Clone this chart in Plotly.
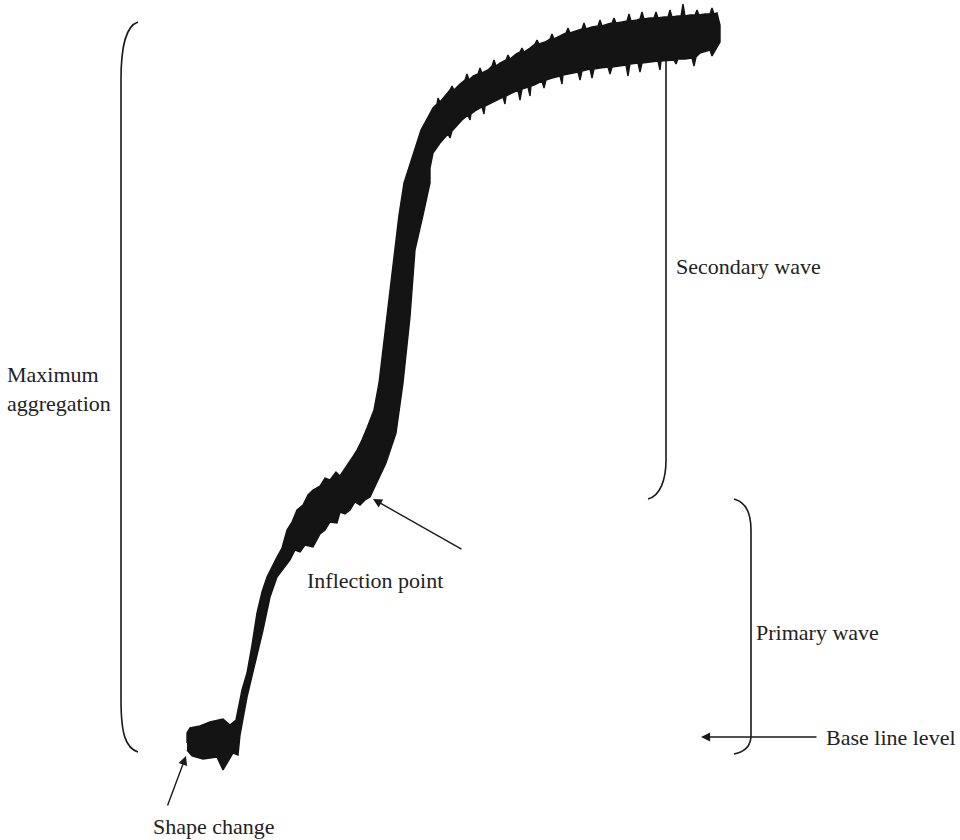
import plotly.graph_objects as go

# Aggregation trace envelope
# time (a.u.) and light transmission (a.u., baseline = 0)
upper_time = [-1, -1, 2, 12, 22, 35, 42, 48, 54, 59, 64, 69, 74, 79,
              89, 94, 99, 104, 109, 115, 120, 125, 132, 137, 142, 148, 152, 159, 164, 169, 174, 179,
              186, 191, 195, 199, 203, 207, 211, 216, 227, 233,
              245, 249, 250, 252, 257, 262, 264, 266, 272, 277, 279, 281, 285, 290, 292, 294, 300,
              304, 306, 308, 312, 318, 320, 322, 328, 332, 334, 336, 342, 347, 349, 351, 357, 362,
              364, 366, 372, 378, 380, 382, 388, 394, 396, 398, 404, 410, 412, 414, 420, 424, 426,
              428, 434, 439, 441, 443, 449, 452, 454, 456, 462, 466, 468, 470, 476, 480, 482, 484,
              490, 493, 495, 497, 502, 507, 509, 511, 517, 522, 524, 526, 529, 532]
upper_val = [-5, 5, 10, 12, 16, 19, 13, 18, 48, 65, 93, 125, 146, 161,
             181, 190, 208, 216, 228, 233, 243, 248, 252, 260, 258, 266, 262, 272, 280, 288, 298, 310,
             328, 355, 388, 421, 453, 488, 523, 555, 588, 608,
             630, 634, 640, 636, 642, 648, 652, 648, 654, 658, 664, 658, 662, 664, 670, 665, 668,
             672, 678, 672, 675, 678, 683, 679, 684, 686, 690, 686, 690, 694, 698, 694, 696, 699,
             704, 699, 702, 705, 710, 705, 707, 709, 715, 709, 711, 712, 718, 712, 714, 715, 720,
             715, 716, 717, 724, 717, 718, 719, 726, 719, 720, 720, 726, 720, 721, 721, 728, 721,
             722, 722, 734, 722, 723, 723, 728, 723, 724, 724, 730, 724, 725, 713]
lower_time = [532, 528, 524, 522, 512, 508, 506, 504, 497, 490, 488, 486, 477, 473, 472, 470, 462,
              454, 452, 450, 442, 440, 438, 430, 424, 422, 420, 412, 406, 404, 402, 394, 392, 390,
              382, 375, 374, 372, 364, 358, 356, 354, 346, 343, 342, 340, 334, 332, 330, 322, 318,
              317, 315, 307, 300, 297, 296, 294, 287, 283, 282, 280, 274, 269, 264, 262, 260, 252,
              245, 242, 242, 235, 227, 222, 215, 208, 198,
              182, 177, 172, 167, 162, 157, 152, 149, 142, 137, 132, 125, 117, 112, 107, 102,
              89, 82, 75, 67, 59, 52, 50, 45, 35, 29, 15, 4, -1]
lower_val = [696, 689, 682, 688, 685, 681, 672, 680, 679, 679, 674, 678, 677, 677, 668, 677, 676,
             675, 666, 675, 674, 662, 673, 672, 671, 664, 671, 670, 669, 660, 669, 667, 658, 666,
             664, 663, 654, 662, 660, 658, 650, 657, 653, 652, 642, 651, 649, 638, 648, 644, 642,
             634, 641, 637, 634, 632, 624, 631, 627, 624, 618, 623, 618, 613, 607, 600, 604, 595,
             585, 570, 555, 523, 488, 421, 355, 305, 275,
             241, 238, 233, 236, 228, 224, 226, 215, 216, 208, 204, 191, 193, 186, 188, 178,
             161, 141, 108, 75, 41, 3, -17, -15, -32, -19, -21, -18, -12]

labels = {
    "max": "Maximum<br>aggregation",
    "secondary": "Secondary wave",
    "primary": "Primary wave",
    "inflection": "Inflection point",
    "shape": "Shape change",
    "baseline": "Base line level",
}

W, H = 960, 840
X0_PX, Y0_PX = 188, 738  # picture pixel of time 0 / baseline


def X(px):
    return px / W


def Y(py):
    return 1 - py / H


fig = go.Figure()
fig.add_trace(go.Scatter(
    x=upper_time + lower_time,
    y=upper_val + lower_val,
    mode="lines",
    fill="toself",
    fillcolor="#141414",
    line=dict(color="#141414", width=1.4),
    hoverinfo="skip",
    showlegend=False,
))

ink = "#1a1a1a"
shapes = []


def path(d):
    shapes.append(dict(type="path", xref="paper", yref="paper", path=d,
                       line=dict(color=ink, width=1.6), layer="below"))


def P(px, py):
    return f"{X(px):.5f},{Y(py):.5f}"


# Maximum aggregation bracket (left)
path(f"M {P(138,22)} C {P(126,26)} {P(121,45)} {P(121,80)} L {P(121,700)} "
     f"C {P(121,735)} {P(126,748)} {P(138,752)}")
# Secondary wave bracket
path(f"M {P(666,45)} L {P(666,460)} C {P(666,480)} {P(660,496)} {P(648,499)}")
# Primary wave bracket
path(f"M {P(734,499)} C {P(746,502)} {P(751,512)} {P(751,530)} L {P(751,735)} "
     f"C {P(751,746)} {P(745,752)} {P(734,754)}")

font = dict(family="Liberation Serif, Times New Roman, serif", size=22, color="#222222")
ann = []


def text(t, px, py, align="left"):
    ann.append(dict(text=t, x=X(px), y=Y(py), xref="paper", yref="paper", showarrow=False,
                    xanchor="left", yanchor="middle", align=align, font=font))


def arrow(tip, tail):
    ann.append(dict(text="", x=X(tip[0]), y=Y(tip[1]), xref="paper", yref="paper",
                    ax=tail[0] - tip[0], ay=tail[1] - tip[1], showarrow=True,
                    arrowhead=2, arrowsize=1.3, arrowwidth=1.4, arrowcolor=ink, standoff=0))


text(labels["max"], 5, 389)
text(labels["secondary"], 674, 266)
text(labels["primary"], 754, 632)
text(labels["inflection"], 305, 580)
text(labels["shape"], 151, 826)
text(labels["baseline"], 824, 737)

arrow((701, 737), (818, 737))
arrow((373, 499), (463, 550))
arrow((186, 756), (167, 807))

fig.update_layout(
    width=W, height=H,
    margin=dict(l=0, r=0, t=0, b=0),
    paper_bgcolor="white", plot_bgcolor="white",
    xaxis=dict(range=[-X0_PX, W - X0_PX], visible=False, fixedrange=True),
    yaxis=dict(range=[Y0_PX - H, Y0_PX], visible=False, fixedrange=True),
    shapes=shapes, annotations=ann,
)

fig.write_html(
    "out.html",
    config={"displayModeBar": False},
    post_script="document.body.style.margin='0';document.body.style.overflow='hidden';",
)
